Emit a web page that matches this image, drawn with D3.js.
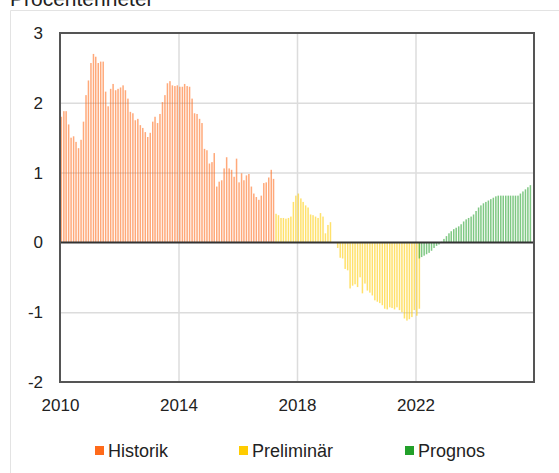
<!DOCTYPE html>
<html>
<head>
<meta charset="utf-8">
<script src="https://cdn.jsdelivr.net/npm/d3@7"></script>
<style>
	body { margin: 0; background: #ffffff; }
	svg { display: block; font-family: "Liberation Sans", Arial, sans-serif; }
</style>
</head>
<body>
<div id="vis_container"></div>
<script>
// monthly values, procentenheter
// Historik: jan 2010 - mar 2017
var historik = [1.80, 1.88, 1.88, 1.69, 1.50, 1.52, 1.44, 1.35, 1.47, 1.73, 2.11, 2.32,
	2.57, 2.70, 2.66, 2.57, 2.59, 2.59, 2.16, 1.95, 2.20, 2.27, 2.18, 2.20,
	2.22, 2.25, 2.18, 2.06, 1.87, 1.85, 1.75, 1.77, 1.68, 1.64, 1.58, 1.51,
	1.57, 1.73, 1.80, 1.71, 1.84, 2.01, 2.11, 2.28, 2.31, 2.25, 2.24, 2.25,
	2.23, 2.23, 2.27, 2.24, 2.23, 2.06, 1.85, 1.84, 1.77, 1.71, 1.34, 1.32,
	1.13, 1.15, 1.28, 0.80, 0.87, 0.89, 1.06, 1.22, 1.06, 1.04, 0.94, 1.20,
	0.86, 0.99, 0.89, 0.96, 0.98, 0.80, 0.70, 0.65, 0.61, 0.67, 0.85, 0.86,
	0.93, 1.04, 0.91];
// Preliminär: apr 2017 - jan 2022
var preliminar = [0.41, 0.39, 0.35, 0.35, 0.34, 0.35, 0.37, 0.58, 0.67,
	0.70, 0.63, 0.58, 0.53, 0.50, 0.40, 0.39, 0.37, 0.35, 0.42, 0.37, 0.13,
	0.25, 0.29, 0, 0, -0.08, -0.22, -0.23, -0.38, -0.40, -0.66, -0.62, -0.60,
	-0.64, -0.50, -0.73, -0.59, -0.69, -0.72, -0.76, -0.83, -0.85, -0.87, -0.90, -0.95,
	-0.96, -0.93, -0.94, -0.96, -0.93, -0.97, -1.00, -1.09, -1.12, -1.10, -1.07, -0.97,
	-1.05, -0.95];
// Prognos: feb 2022 - dec 2025
var prognos = [-0.23, -0.21, -0.19, -0.17, -0.15, -0.12, -0.08, -0.05, -0.03, 0.01, 0.05,
	0.09, 0.13, 0.16, 0.19, 0.21, 0.23, 0.26, 0.30, 0.33, 0.35, 0.37, 0.40,
	0.45, 0.50, 0.53, 0.56, 0.58, 0.60, 0.62, 0.64, 0.66, 0.67, 0.67, 0.67,
	0.67, 0.67, 0.67, 0.67, 0.67, 0.67, 0.70, 0.73, 0.76, 0.79, 0.82];

var seriesNames = ["Historik", "Preliminär", "Prognos"];
var seriesStart = ["2010-01", "2017-04", "2022-02"];
var yTicks = [-2, -1, 0, 1, 2, 3];
var xTickYears = [2010, 2014, 2018, 2022];

var chart = {};
chart.width = 559;
chart.height = 473;
chart.margin = {"top": 33, "left": 60, "right": 25, "bottom": 91};
chart.colors = ["#ff6a1a", "#ffcc00", "#22a02a"];

chart.svg = d3.select("#vis_container").append("svg")
	.attr("width", chart.width)
	.attr("height", chart.height);

// outer frame
chart.svg.append("path")
	.attr("d", "M10.5," + chart.height + "V10.5H" + chart.width)
	.attr("fill", "none")
	.attr("stroke", "#e3e3e3");

// unit label, cut at the top like the source
chart.svg.append("text")
	.attr("x", 10)
	.attr("y", 6)
	.attr("font-size", 21)
	.attr("fill", "#222")
	.text("Procentenheter");

var parseMonth = d3.timeParse("%Y-%m");

chart.x = d3.scaleTime()
	.domain([new Date(2010, 0, 1), new Date(2026, 0, 1)])
	.range([chart.margin.left, chart.width - chart.margin.right]);

chart.y = d3.scaleLinear()
	.domain([-2, 3])
	.range([chart.height - chart.margin.bottom, chart.margin.top]);

var x0 = chart.margin.left, x1 = chart.width - chart.margin.right;
var yTop = chart.margin.top, yBot = chart.height - chart.margin.bottom;

// gridlines
chart.svg.append("g")
	.attr("transform", "translate(0," + yBot + ")")
	.call(d3.axisBottom(chart.x)
		.tickValues(xTickYears.slice(1).map(function(d) { return new Date(d, 0, 1); }))
		.tickSize(-(yBot - yTop))
		.tickFormat(""))
	.call(function(g) {
		g.select(".domain").remove();
		g.selectAll("line").attr("stroke", "#dcdcdc").attr("stroke-width", 1.5);
	});

chart.svg.append("g")
	.attr("transform", "translate(" + x0 + ",0)")
	.call(d3.axisLeft(chart.y)
		.tickValues([-1, 1, 2])
		.tickSize(-(x1 - x0))
		.tickFormat(""))
	.call(function(g) {
		g.select(".domain").remove();
		g.selectAll("line").attr("stroke", "#dcdcdc").attr("stroke-width", 1.5);
	});

// bars
var seriesValues = [historik, preliminar, prognos];
seriesValues.forEach(function(values, s) {
	var start = parseMonth(seriesStart[s]);
	var data = values.map(function(v, i) {
		return {"date": d3.timeMonth.offset(start, i), "value": v};
	});
	chart.svg.append("g")
		.selectAll("rect")
		.data(data)
		.enter().append("rect")
			.attr("x", function(d) { return chart.x(d.date) + 0.6; })
			.attr("width", 1.5)
			.attr("y", function(d) { return chart.y(Math.max(0, d.value)); })
			.attr("height", function(d) { return Math.abs(chart.y(d.value) - chart.y(0)); })
			.attr("fill", chart.colors[s])
			.attr("fill-opacity", 0.58);
});

// zero line
chart.svg.append("line")
	.attr("x1", x0)
	.attr("x2", x1)
	.attr("y1", chart.y(0))
	.attr("y2", chart.y(0))
	.attr("stroke", "#333")
	.attr("stroke-width", 2);

// plot border
chart.svg.append("rect")
	.attr("x", x0)
	.attr("y", yTop)
	.attr("width", x1 - x0)
	.attr("height", yBot - yTop)
	.attr("fill", "none")
	.attr("stroke", "#555")
	.attr("stroke-width", 2);

// tick labels
chart.svg.append("g")
	.attr("transform", "translate(0," + yBot + ")")
	.call(d3.axisBottom(chart.x)
		.tickValues(xTickYears.map(function(d) { return new Date(d, 0, 1); }))
		.tickSize(0)
		.tickPadding(17)
		.tickFormat(d3.timeFormat("%Y")))
	.call(function(g) {
		g.select(".domain").remove();
		g.selectAll("text").attr("font-size", 17).attr("font-family", null).attr("fill", "#222");
	});

chart.svg.append("g")
	.attr("transform", "translate(" + x0 + ",0)")
	.call(d3.axisLeft(chart.y)
		.tickValues(yTicks)
		.tickSize(0)
		.tickPadding(17)
		.tickFormat(function(d) { return String(d); }))
	.call(function(g) {
		g.select(".domain").remove();
		g.selectAll("text").attr("font-size", 17).attr("font-family", null).attr("fill", "#222");
	});

// legend
var legendX = [95, 239, 405];
var legend = chart.svg.append("g")
	.selectAll("g")
	.data(seriesNames)
	.enter().append("g")
		.attr("transform", function(d, i) { return "translate(" + legendX[i] + ",446)"; });

legend.append("rect")
	.attr("width", 9)
	.attr("height", 9)
	.attr("fill", function(d, i) { return chart.colors[i]; });

legend.append("text")
	.attr("x", 13)
	.attr("y", 10.5)
	.attr("font-size", 18)
	.attr("fill", "#222")
	.text(function(d) { return d; });
</script>
</body>
</html>
